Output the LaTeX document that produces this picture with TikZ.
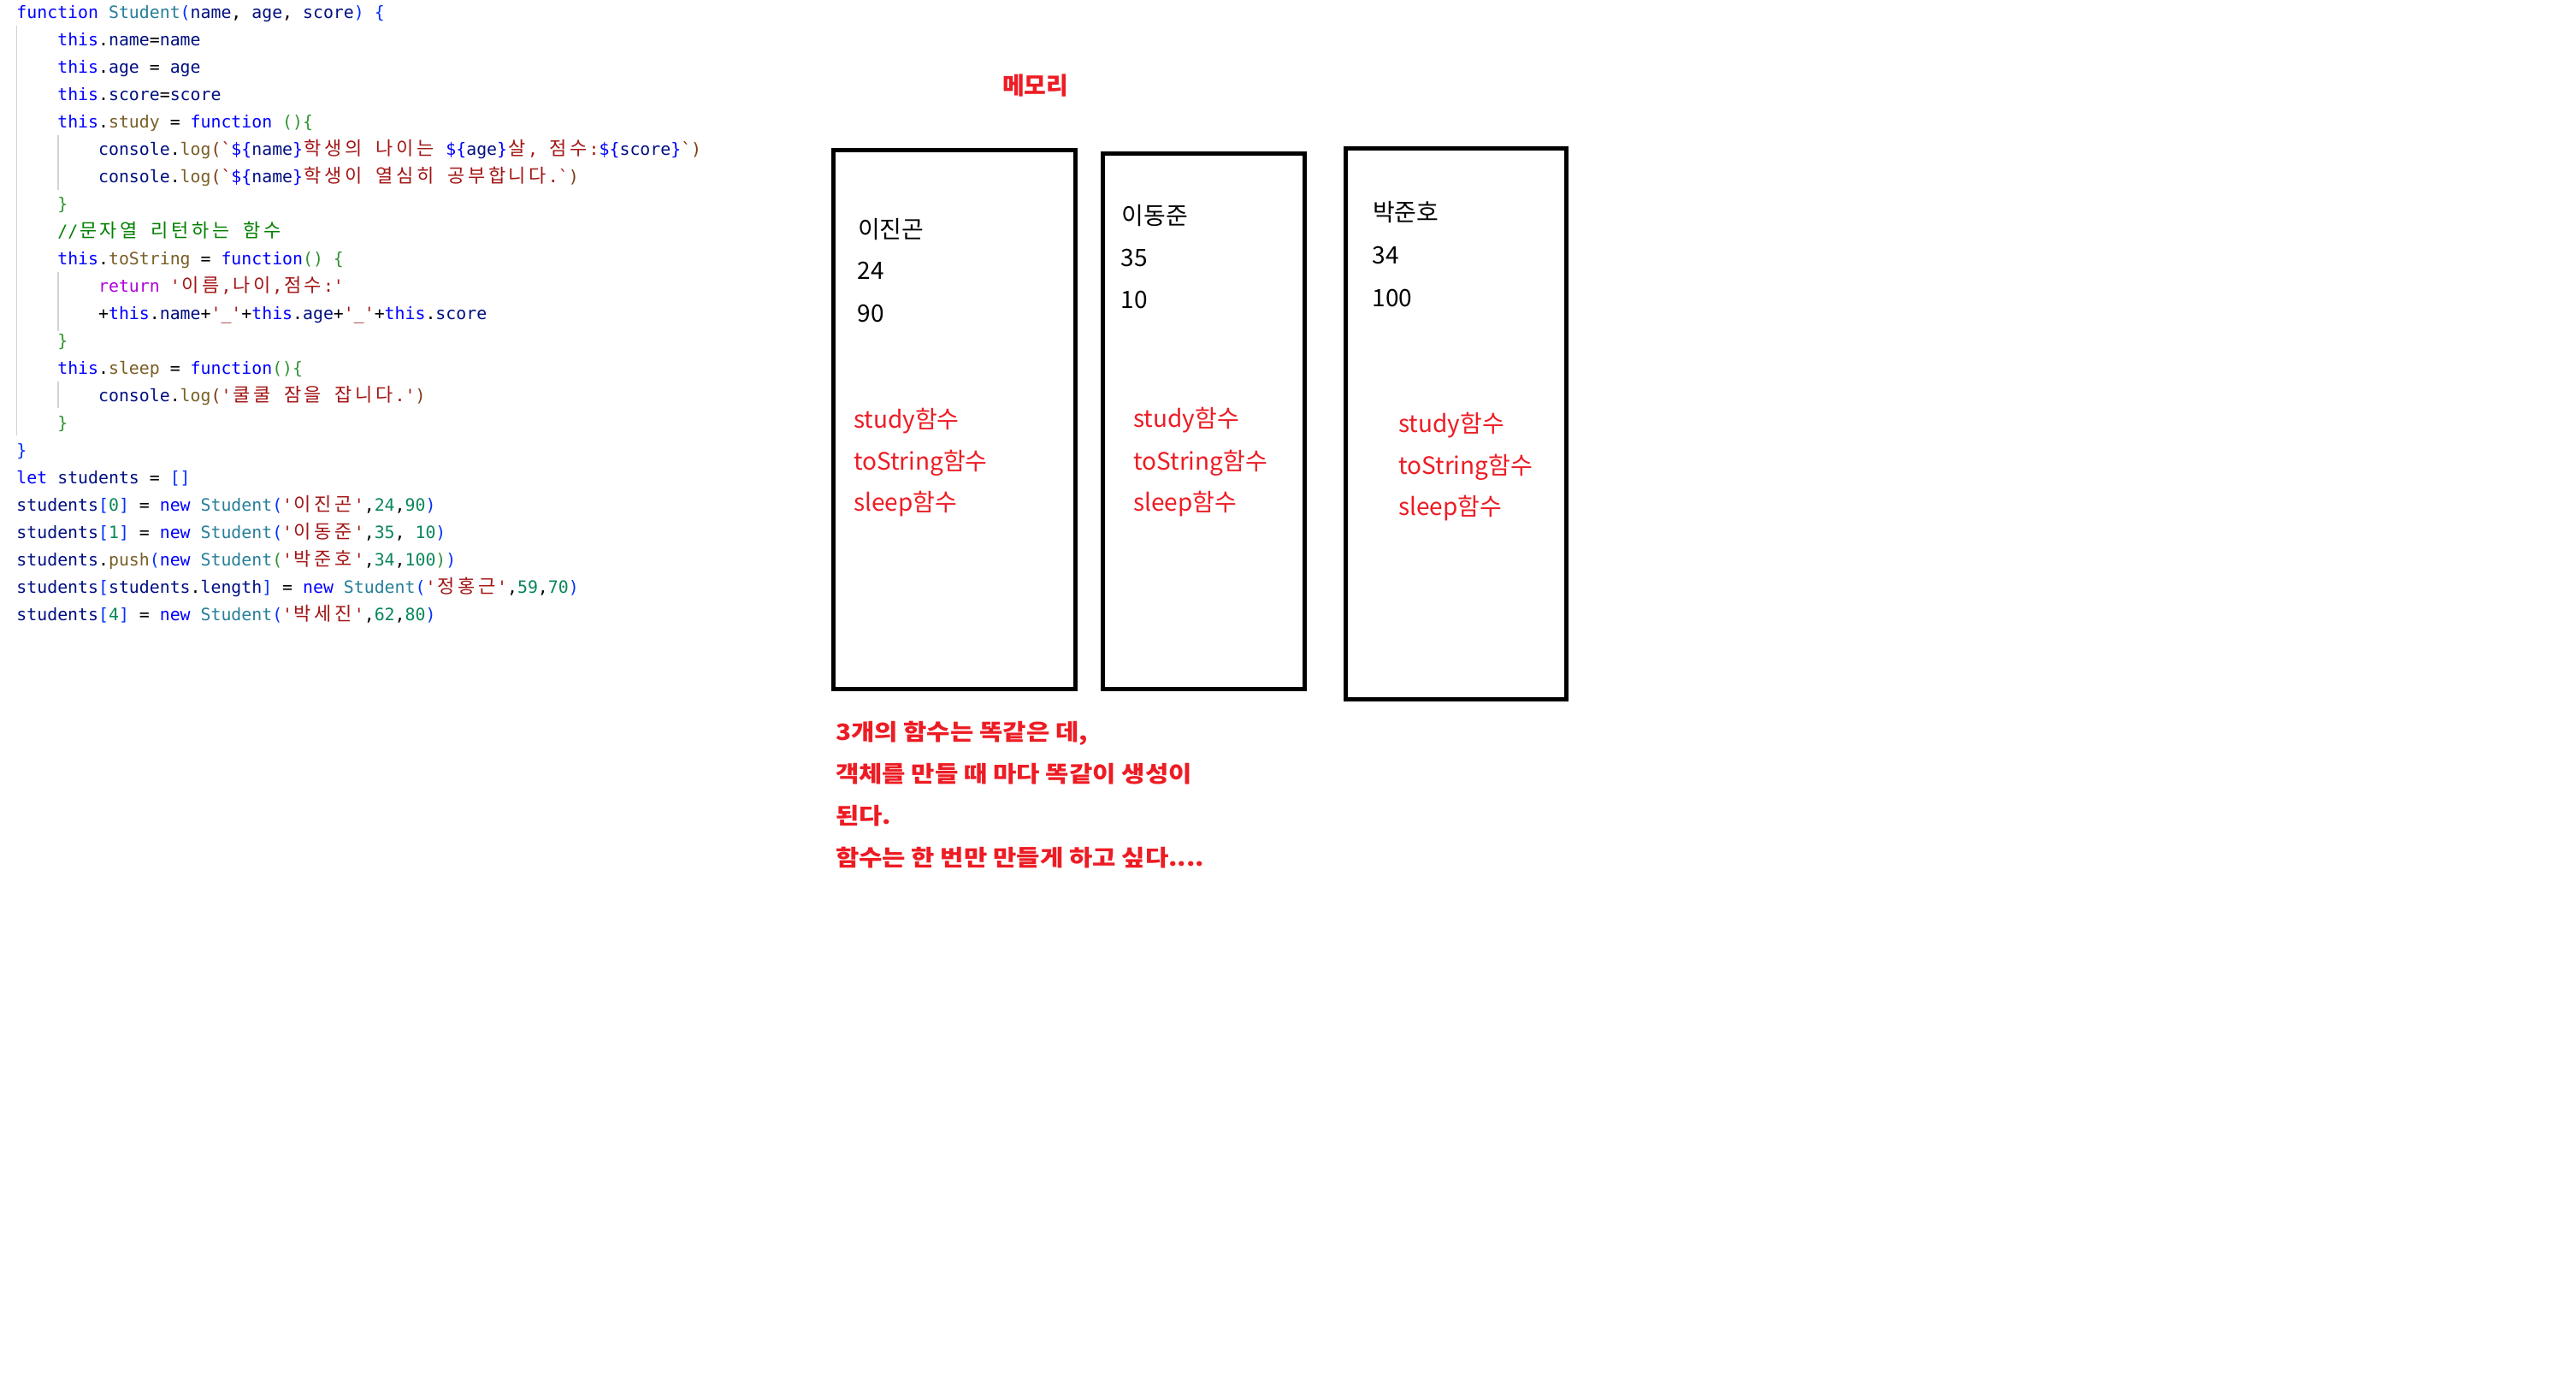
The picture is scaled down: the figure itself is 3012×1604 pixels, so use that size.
\documentclass[tikz,border=0pt]{standalone}
\usepackage{fontspec}
\setmonofont{DejaVu Sans Mono}
\newfontfamily\krfont{Noto Sans CJK KR}
\newfontfamily\krnotefont[FakeStretch=1.13]{Noto Sans CJK KR}
\newfontfamily\krcodefont{Noto Sans CJK KR}
\definecolor{ckw}{HTML}{0000FF}
\definecolor{cty}{HTML}{267F99}
\definecolor{cvr}{HTML}{001080}
\definecolor{cfn}{HTML}{795E26}
\definecolor{cst}{HTML}{A31515}
\definecolor{ccm}{HTML}{008000}
\definecolor{cnm}{HTML}{098658}
\definecolor{crt}{HTML}{AF00DB}
\definecolor{cba}{HTML}{0431FA}
\definecolor{cbb}{HTML}{319331}
\definecolor{cbc}{HTML}{7B3814}
\definecolor{memred}{HTML}{ED1C24}
\definecolor{guidegray}{HTML}{D3D3D3}
\def\krend{}
\def\krloop#1{\ifx#1\krend\else\makebox[23.9pt][c]{#1}\expandafter\krloop\fi}
\newcommand\kr[1]{{\krcodefont\fontsize{22}{32}\selectfont\krloop#1\krend}}
\newcommand\Ckw[1]{\textcolor{ckw}{#1}}
\newcommand\Cty[1]{\textcolor{cty}{#1}}
\newcommand\Cvr[1]{\textcolor{cvr}{#1}}
\newcommand\Cfn[1]{\textcolor{cfn}{#1}}
\newcommand\Cst[1]{\textcolor{cst}{#1}}
\newcommand\Ccm[1]{\textcolor{ccm}{#1}}
\newcommand\Cnm[1]{\textcolor{cnm}{#1}}
\newcommand\Crt[1]{\textcolor{crt}{#1}}
\newcommand\Cba[1]{\textcolor{cba}{#1}}
\newcommand\Cbb[1]{\textcolor{cbb}{#1}}
\newcommand\Cbc[1]{\textcolor{cbc}{#1}}
\begin{document}
\begin{tikzpicture}[x=1pt,y=-1pt,
  codeline/.style={anchor=base west, inner sep=0pt, outer sep=0pt, font=\ttfamily\fontsize{19.85}{32}\selectfont},
  guide/.style={draw=guidegray, line width=1.2pt},
  membox/.style={draw=black, line width=5pt},
  boxtxt/.style={anchor=base west, inner sep=0pt, outer sep=0pt, font=\krfont\fontsize{28}{34}\selectfont},
  fntxt/.style={boxtxt, text=memred},
  notetxt/.style={anchor=base west, inner sep=0pt, outer sep=0pt, text=memred, font=\krnotefont\bfseries\fontsize{26.3}{34}\selectfont}]
\useasboundingbox[fill=white] (0,0) rectangle (3012,1604);
% indent guides
\draw[guide] (19.2,30) -- (19.2,509);
\draw[guide] (68,158) -- (68,222);
\draw[guide] (68,318) -- (68,387);
\draw[guide] (68,446) -- (68,477);
% code
\node[codeline] (c1) at (19.5,21.7) {\Ckw{function} \Cty{Student}\Cba{(}\Cvr{name}, \Cvr{age}, \Cvr{score}\Cba{)} \Cba{\{}};
\node[codeline] (c2) at (67.3,53.7) {\Ckw{this}.\Cvr{name}=\Cvr{name}};
\node[codeline] (c3) at (67.3,85.7) {\Ckw{this}.\Cvr{age} = \Cvr{age}};
\node[codeline] (c4) at (67.3,117.7) {\Ckw{this}.\Cvr{score}=\Cvr{score}};
\node[codeline] (c5) at (67.3,149.7) {\Ckw{this}.\Cfn{study} = \Ckw{function} \Cbb{()\{}};
\node[codeline] (c6) at (115.1,181.7) {\Cvr{console}.\Cfn{log}\Cbc{(}\Cst{`}\Ckw{\$\{}\Cvr{name}\Ckw{\}}\Cst{\kr{학생의} \kr{나이는} }\Ckw{\$\{}\Cvr{age}\Ckw{\}}\Cst{\kr{살}, \kr{점수}:}\Ckw{\$\{}\Cvr{score}\Ckw{\}}\Cst{`}\Cbc{)}};
\node[codeline] (c7) at (115.1,213.7) {\Cvr{console}.\Cfn{log}\Cbc{(}\Cst{`}\Ckw{\$\{}\Cvr{name}\Ckw{\}}\Cst{\kr{학생이} \kr{열심히} \kr{공부합니다}.`}\Cbc{)}};
\node[codeline] (c8) at (67.3,245.7) {\Cbb{\}}};
\node[codeline] (c9) at (67.3,277.7) {\Ccm{//\kr{문자열} \kr{리턴하는} \kr{함수}}};
\node[codeline] (c10) at (67.3,309.7) {\Ckw{this}.\Cfn{toString} = \Ckw{function}\Cbb{()} \Cbb{\{}};
\node[codeline] (c11) at (115.1,341.7) {\Crt{return} \Cst{'\kr{이름},\kr{나이},\kr{점수}:'}};
\node[codeline] (c12) at (115.1,373.7) {+\Ckw{this}.\Cvr{name}+\Cst{'\_'}+\Ckw{this}.\Cvr{age}+\Cst{'\_'}+\Ckw{this}.\Cvr{score}};
\node[codeline] (c13) at (67.3,405.7) {\Cbb{\}}};
\node[codeline] (c14) at (67.3,437.7) {\Ckw{this}.\Cfn{sleep} = \Ckw{function}\Cbb{()\{}};
\node[codeline] (c15) at (115.1,469.7) {\Cvr{console}.\Cfn{log}\Cbc{(}\Cst{'\kr{쿨쿨} \kr{잠을} \kr{잡니다}.'}\Cbc{)}};
\node[codeline] (c16) at (67.3,501.7) {\Cbb{\}}};
\node[codeline] (c17) at (19.5,533.7) {\Cba{\}}};
\node[codeline] (c18) at (19.5,565.7) {\Ckw{let} \Cvr{students} = \Cba{[]}};
\node[codeline] (c19) at (19.5,597.7) {\Cvr{students}\Cba{[}\Cnm{0}\Cba{]} = \Ckw{new} \Cty{Student}\Cba{(}\Cst{'\kr{이진곤}'},\Cnm{24},\Cnm{90}\Cba{)}};
\node[codeline] (c20) at (19.5,629.7) {\Cvr{students}\Cba{[}\Cnm{1}\Cba{]} = \Ckw{new} \Cty{Student}\Cba{(}\Cst{'\kr{이동준}'},\Cnm{35}, \Cnm{10}\Cba{)}};
\node[codeline] (c21) at (19.5,661.7) {\Cvr{students}.\Cfn{push}\Cba{(}\Ckw{new} \Cty{Student}\Cbb{(}\Cst{'\kr{박준호}'},\Cnm{34},\Cnm{100}\Cbb{)}\Cba{)}};
\node[codeline] (c22) at (19.5,693.7) {\Cvr{students}\Cba{[}\Cvr{students}.\Cvr{length}\Cba{]} = \Ckw{new} \Cty{Student}\Cba{(}\Cst{'\kr{정홍근}'},\Cnm{59},\Cnm{70}\Cba{)}};
\node[codeline] (c23) at (19.5,725.7) {\Cvr{students}\Cba{[}\Cnm{4}\Cba{]} = \Ckw{new} \Cty{Student}\Cba{(}\Cst{'\kr{박세진}'},\Cnm{62},\Cnm{80}\Cba{)}};
% title
\node[anchor=base west, inner sep=0pt, text=memred, font=\krfont\bfseries\fontsize{28}{34}\selectfont] (title) at (1172,110) {메모리};
% memory boxes
\draw[membox] (974.7,175.7) rectangle (1257.3,805);
\draw[membox] (1289.5,179.5) rectangle (1525.3,805);
\draw[membox] (1573.8,173.7) rectangle (1831.7,817.2);
% box 1
\node[boxtxt] (n1) at (1003,278) {이진곤};
\node[boxtxt] (a1) at (1002.5,326.7) {24};
\node[boxtxt] (s1) at (1002.5,376) {90};
\node[fntxt] (f1a) at (998,500) {study함수};
\node[fntxt] (f1b) at (998,549.3) {toString함수};
\node[fntxt] (f1c) at (998,597.7) {sleep함수};
% box 2
\node[boxtxt] (n2) at (1311.5,262) {이동준};
\node[boxtxt] (a2) at (1310.8,311) {35};
\node[boxtxt] (s2) at (1310.8,360) {10};
\node[fntxt] (f2a) at (1325.4,499.3) {study함수};
\node[fntxt] (f2b) at (1325.4,549.3) {toString함수};
\node[fntxt] (f2c) at (1325.4,597.3) {sleep함수};
% box 3
\node[boxtxt] (n3) at (1605,258) {박준호};
\node[boxtxt] (a3) at (1604.5,308.7) {34};
\node[boxtxt] (s3) at (1604.5,358) {100};
\node[fntxt] (f3a) at (1635.4,505) {study함수};
\node[fntxt] (f3b) at (1635.4,554.3) {toString함수};
\node[fntxt] (f3c) at (1635.4,602.7) {sleep함수};
% note
\node[notetxt] (t1) at (977,865.5) {3개의 함수는 똑같은 데,};
\node[notetxt] (t2) at (977,914) {객체를 만들 때 마다 똑같이 생성이};
\node[notetxt] (t3) at (977,963) {된다.};
\node[notetxt] (t4) at (977,1012) {함수는 한 번만 만들게 하고 싶다....};
\end{tikzpicture}
\end{document}
